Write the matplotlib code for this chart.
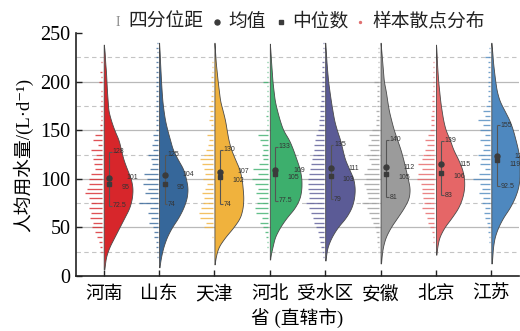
import numpy as np
import matplotlib
matplotlib.use("Agg")
import matplotlib.pyplot as plt
from matplotlib.lines import Line2D

plt.rcParams['font.family'] = ['Liberation Serif', 'Noto Sans CJK SC', 'DejaVu Serif']

# ---- data -------------------------------------------------------------
regions = ['河南', '山东', '天津', '河北', '受水区', '安徽', '北京', '江苏']
colors = ['#d7262b', '#36679a', '#f0b23d', '#3daf6d', '#5b5b96', '#9b9b9b', '#e56667', '#4e88bf']

q3 = [128, 125, 130, 133, 135, 140, 139, 155]
q1 = [72.5, 74, 74, 77.5, 79, 81, 83, 92.5]
means = [101, 104, 107, 109, 111, 112, 115, 123]
medians = [95, 95, 102, 105, 103, 105, 106, 119]

# sample range per region
y_min = [7, 9, 12, 17, 16, 13, 22, 13]
y_max = [238, 240, 240, 239, 240, 240, 238, 240]

# density profile (relative width) at 0, 10, ..., 240
dens_levels = np.arange(0, 250, 10)
density = {
    '河南': [0, 1, 2.3, 5.7, 10.7, 15.7, 20.7, 25.7, 28.3, 29, 27.3, 23.3, 19.7, 17.3, 15, 10.7, 7.3, 4.7, 4, 3.3, 2.8, 2.3, 1.5, 1, 0],
    '山东': [0, 0.5, 2, 4.3, 7.7, 12.7, 19.3, 24.3, 27.7, 28.7, 27, 24.3, 18.7, 13.7, 11, 8.3, 6, 4.5, 3.3, 2.6, 2, 1.5, 1, 0.6, 0],
    '天津': [0, 0, 1.3, 4, 10.7, 19, 25.7, 28.3, 29, 28.3, 27.3, 25, 20.7, 16.7, 14, 12.3, 10.7, 8.3, 5.7, 4.5, 3.3, 2.3, 1.3, 0.7, 0],
    '河北': [0, 0, 0.5, 2.7, 5, 10, 16.7, 25, 30, 31.7, 31.7, 30, 26.7, 23.3, 19.3, 13.3, 10, 7.3, 5, 3.8, 2.7, 2, 1.3, 0.7, 0],
    '受水区': [0, 0, 0.7, 2.3, 6.3, 12.3, 20.7, 26.3, 29, 29.7, 28.3, 24, 19.7, 17.3, 15, 11.7, 9, 7.3, 5.7, 4.3, 3, 2.1, 1.3, 0.7, 0],
    '安徽': [0, 0.3, 1, 2.3, 5, 10, 16.7, 23.3, 28.3, 29.3, 27.3, 25, 22.7, 20, 16.7, 13.3, 10.7, 8.3, 6.7, 5.3, 3.3, 2.5, 1.7, 0.9, 0],
    '北京': [0, 0, 0.3, 1.3, 3.3, 8.3, 15.7, 22.3, 26.3, 28.3, 28.3, 26.3, 22.3, 17.3, 14, 9.7, 7.3, 5.7, 4.3, 3.3, 2.3, 1.6, 1, 0.6, 0],
    '江苏': [0, 0.3, 1, 1.7, 3.3, 6.7, 11.7, 18.3, 23.3, 26.7, 28.3, 28.3, 28.3, 26.7, 24.3, 21.7, 18.3, 13.3, 8.3, 5.5, 4, 2.8, 1.7, 1, 0],
}

# sample counts per 5 L/d bin, bins centred at 10, 15, ..., 240
bin_levels = np.arange(10, 245, 5)
counts = {
    '河南': [0, 0, 0, 1, 2, 2.7, 5.3, 6.7, 10, 8.7, 12, 11, 12.7, 11, 13.3, 17.3, 15.3, 12.7, 13.3, 11, 6.7, 7.7, 9.3, 6, 11, 4.3, 8.7, 6.7, 2, 2, 1, 1.5, 1.5, 1, 1.5, 1, 1, 0, 2.7, 1, 1.7, 0, 1, 0, 0, 0, 0],
    '山东': [0, 0, 0.7, 1, 1.3, 2, 3.3, 3.3, 4.3, 8.7, 6.7, 10, 7.7, 18.3, 7.7, 12.7, 9.3, 14.3, 11, 13.3, 7.7, 6, 6.7, 9.3, 4.3, 6, 3.3, 4.3, 2, 2, 1.5, 2, 1.5, 1.5, 2, 1.5, 1.5, 1.5, 2, 1.5, 1.5, 1.5, 1.3, 1.5, 1, 1.3, 1],
    '天津': [0, 0, 0, 0, 0, 0, 1, 0, 8.7, 6.7, 12.7, 14.3, 12, 10, 8.7, 11, 7.7, 6, 10, 7.7, 8.7, 11, 12.7, 9.3, 6.7, 5.3, 4.3, 6, 3.3, 2, 4.3, 3.3, 2.7, 4.3, 2, 1.5, 1, 1, 1.5, 1.5, 1, 1, 1, 0, 0, 0, 0],
    '河北': [0, 0, 0, 0.5, 1, 1.5, 2.3, 3.3, 5, 8.3, 6.7, 12.3, 13.3, 11.7, 9, 12.3, 10, 13.3, 16.7, 10, 15, 9, 5.7, 6.7, 5, 6.7, 8.3, 10, 2, 1.5, 1.5, 2, 1.5, 1.5, 1.5, 1.5, 1.5, 1, 5, 1, 1.5, 1, 1, 0.5, 0, 0, 0],
    '受水区': [0, 0, 0.7, 1.7, 2.7, 3.3, 4.3, 6, 7.7, 10, 11, 12.7, 14.3, 17.7, 14.3, 14.3, 15.3, 16, 15.3, 14.3, 13.3, 12.7, 12, 11, 9.3, 10, 8.7, 7.7, 6, 5, 4.3, 4, 3.7, 3.3, 3, 2.7, 2.3, 2, 2, 1.7, 1.5, 1.3, 1.2, 1, 1, 0.7, 0.5],
    '安徽': [0, 0, 0, 0.7, 1, 1.7, 2.3, 3.3, 4.3, 5.7, 8.3, 10, 11.7, 16.7, 11, 12.3, 13.3, 15, 13.3, 15, 11.7, 8.3, 10, 11.7, 9, 11, 8.3, 10, 6.7, 3.3, 3, 2.3, 2.7, 2.3, 2, 2, 1.7, 1.7, 5, 1.3, 1.3, 1, 1, 1, 0.7, 0.7, 0],
    '北京': [0, 0, 0, 0, 0, 1, 1.7, 2.7, 4.3, 6.7, 7.7, 9.3, 12, 10, 11, 12.7, 12, 13.3, 17.7, 16, 12.7, 16.7, 12, 11, 9.3, 7.7, 9.3, 6, 4.3, 3.7, 3.3, 3, 2.7, 2.3, 2, 2, 1.7, 1.5, 1.5, 1.3, 1.2, 1, 1, 0.7, 0, 0, 0],
    '江苏': [0, 0, 0, 0, 0, 0.7, 1, 1.7, 2.3, 3.3, 5, 6, 5, 7.7, 6.7, 11, 8.3, 10, 16.7, 11, 5, 10, 9, 11.7, 6.7, 5.7, 10, 5, 10, 6.7, 11.7, 5, 6.7, 4.3, 2, 2, 1.7, 1.7, 1.7, 1.7, 1.5, 1.5, 1.5, 5, 1, 0.5, 0],
}

y_ticks = [0, 50, 100, 150, 200, 250]

# ---- figure -----------------------------------------------------------
W, H = 520, 331
fig = plt.figure(figsize=(W / 100, H / 100), dpi=100)
ax = fig.add_axes([76 / W, 55 / H, 443 / W, 243 / H])
ax.set_xlim(0.5, 8.5)
ax.set_ylim(0, 250)

# horizontal reference lines
for v in [50, 100, 150, 200]:
    ax.axhline(v, color='#b9b9b9', lw=0.9, zorder=0)
for v in [25, 75, 125, 175, 225]:
    ax.axhline(v, color='#c4c4c4', lw=0.8, ls=(0, (4, 3)), zorder=0)

px = 1 / 55.4            # one pixel in x data units
dens_scale = px          # density units are drawn as pixels
count_scale = px
gap = 1.5 * px
fine = np.arange(0, 250.5, 1.0)
kernel = np.ones(9) / 9

for i, name in enumerate(regions):
    x0 = i + 1
    c = colors[i]

    # half violin on the right side
    w = np.interp(fine, dens_levels, density[name])
    w = np.convolve(np.pad(w, 4, mode='edge'), kernel, mode='valid')
    keep = (fine >= y_min[i]) & (fine <= y_max[i])
    vv = np.concatenate([[y_min[i]], fine[keep], [y_max[i]]])
    ww = np.concatenate([[0], w[keep], [0]])
    ax.fill_betweenx(vv, x0, x0 + ww * dens_scale, facecolor=c,
                     edgecolor='#4a4a4a', lw=0.6, zorder=2)

    # sample distribution lines on the left side
    cnt = np.array(counts[name])
    m = cnt > 0
    ax.hlines(bin_levels[m], x0 - gap - cnt[m] * count_scale, x0 - gap,
              color=c, lw=0.95, alpha=0.8, zorder=2)

    # interquartile bracket
    bx = x0 + 0.1
    ax.vlines(bx, q1[i], q3[i], color='#555555', lw=0.8, zorder=3)
    ax.hlines([q1[i], q3[i]], bx, bx + 0.05, color='#555555', lw=0.8, zorder=3)
    ax.plot(bx, means[i], 'o', ms=3.6, color='#3b3b3b', zorder=4)
    ax.plot(bx, medians[i], 's', ms=3.2, color='#3b3b3b', zorder=4)

    lab = dict(fontsize=5, family='Liberation Sans', color='#333333',
               va='center', zorder=5, clip_on=False)
    ax.text(bx + 0.06, q3[i], f'{q3[i]:g}', ha='left', **lab)
    ax.text(bx + 0.06, q1[i], f'{q1[i]:g}', ha='left', **lab)
    ax.text(x0 + 0.42, means[i], f'{means[i]:g}', ha='left', **lab)
    ax.text(x0 + 0.32, medians[i] - 4, f'{medians[i]:g}', ha='left', **lab)

# axes styling
for s in ['top', 'right']:
    ax.spines[s].set_visible(False)
for s in ['left', 'bottom']:
    ax.spines[s].set_color('#222222')
    ax.spines[s].set_linewidth(1.2)
ax.set_xticks(np.arange(1, len(regions) + 1))
ax.set_xticklabels(regions, fontsize=13.5)
ax.set_yticks(y_ticks)
ax.set_yticklabels([str(t) for t in y_ticks], fontsize=14.5)
ax.tick_params(direction='in', length=4, width=1, color='#222222')
ax.tick_params(axis='x', pad=7)
ax.tick_params(axis='y', pad=4)
ax.set_xlabel('省 (直辖市)', fontsize=13.5, labelpad=3)
ax.set_ylabel('人均用水量/(L·d⁻¹)', fontsize=13.5, labelpad=5)

# legend row above the plot
ly = 1 - 22 / H
fig.text(118 / W, ly, 'I', fontsize=10, color='#8a8a8a', ha='center', va='center')
fig.text(128 / W, ly, '四分位距', fontsize=13.5, ha='left', va='center', color='#222222')
fig.add_artist(Line2D([217 / W], [ly], marker='o', ms=3.6, color='#3b3b3b',
                      transform=fig.transFigure))
fig.text(228 / W, ly, '均值', fontsize=13.5, ha='left', va='center', color='#222222')
fig.add_artist(Line2D([281 / W], [ly], marker='s', ms=3.2, color='#3b3b3b',
                      transform=fig.transFigure))
fig.text(292 / W, ly, '中位数', fontsize=13.5, ha='left', va='center', color='#222222')
fig.add_artist(Line2D([360 / W], [ly], marker='o', ms=1.4, color='#e07070',
                      transform=fig.transFigure))
fig.text(372 / W, ly, '样本散点分布', fontsize=13.5, ha='left', va='center', color='#222222')

fig.savefig('out.png', dpi=100)
